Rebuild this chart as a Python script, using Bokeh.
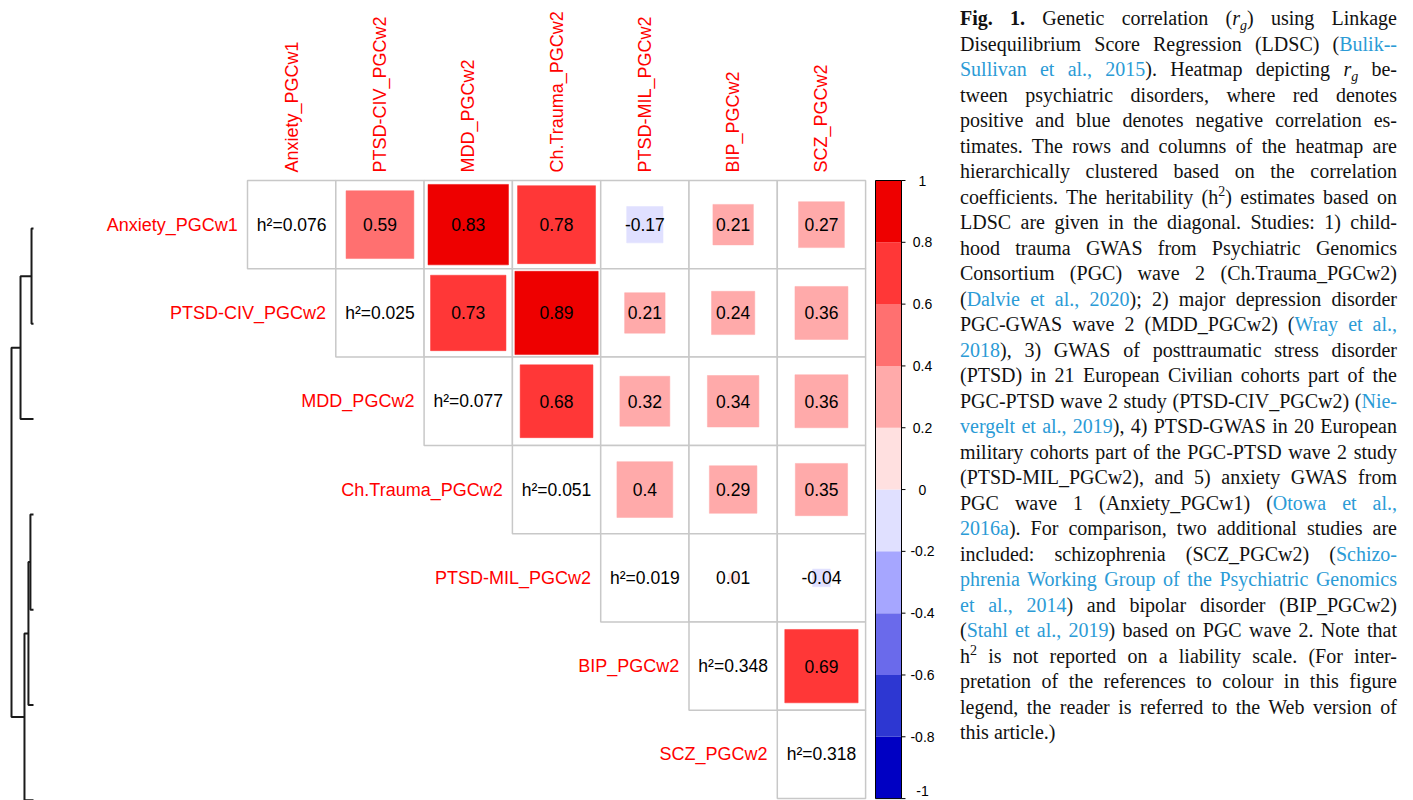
import numpy as np
from bokeh.plotting import figure
from bokeh.models import Range1d, ColumnDataSource, Div
from bokeh.layouts import row
from bokeh.core.properties import value
from bokeh.embed import file_html
from bokeh.resources import INLINE

# ---------------- data ----------------
traits = ["Anxiety_PGCw1", "PTSD-CIV_PGCw2", "MDD_PGCw2", "Ch.Trauma_PGCw2",
          "PTSD-MIL_PGCw2", "BIP_PGCw2", "SCZ_PGCw2"]
h2 = [0.076, 0.025, 0.077, 0.051, 0.019, 0.348, 0.318]
# upper-triangle genetic correlations, one list per row (columns to the right of the diagonal)
rg_anxiety = [0.59, 0.83, 0.78, -0.17, 0.21, 0.27]
rg_ptsd_civ = [0.73, 0.89, 0.21, 0.24, 0.36]
rg_mdd = [0.68, 0.32, 0.34, 0.36]
rg_chtrauma = [0.40, 0.29, 0.35]
rg_ptsd_mil = [0.01, -0.04]
rg_bip = [0.69]
rg_rows = [rg_anxiety, rg_ptsd_civ, rg_mdd, rg_chtrauma, rg_ptsd_mil, rg_bip, []]

# colour scale: 10 bins from -1 to 1
palette = ["#0000C3", "#2D37D2", "#6A6AEB", "#A6A6FF", "#E0E0FF",
           "#FFE0E0", "#FFAAAA", "#FF7070", "#FF3737", "#EE0000"]
bin_edges = [-1.0, -0.8, -0.6, -0.4, -0.2, 0.0, 0.2, 0.4, 0.6, 0.8, 1.0]
cbar_ticks = [1, 0.8, 0.6, 0.4, 0.2, 0, -0.2, -0.4, -0.6, -0.8, -1]
cbar_labels = ["1", "0.8", "0.6", "0.4", "0.2", "0", "-0.2", "-0.4", "-0.6", "-0.8", "-1"]

# dendrogram (scipy-like linkage: node 7+k merges left/right at height)
dendro_left = [0, 7, 3, 9, 10, 8]
dendro_right = [1, 2, 4, 5, 6, 11]
dendro_height = [0.09, 0.59, 0.14, 0.23, 0.41, 1.00]

# ---------------- layout constants ----------------
W, H = 953, 800
XU = 88.3                       # pixels per cell
x_lo = -247 / XU
y_top = -180 / XU
x_range = Range1d(x_lo, x_lo + W / XU)
y_range = Range1d(y_top + H / XU, y_top)   # inverted: rows go down

p = figure(width=W, height=H, x_range=x_range, y_range=y_range,
           output_backend="svg", toolbar_location=None,
           x_axis_location=None, y_axis_location=None, min_border=0)
p.grid.visible = False
p.outline_line_color = None
p.background_fill_color = "white"
p.border_fill_color = "white"

n = len(traits)
SANS = value("Liberation Sans")


def colour_of(v):
    for k in range(10):
        if bin_edges[k] <= v <= bin_edges[k + 1]:
            return palette[k]
    return palette[-1]


# grid cells (upper triangle incl. diagonal)
gx, gy = [], []
for i in range(n):
    for j in range(i, n):
        gx.append(j + 0.5)
        gy.append(i + 0.5)
p.rect(x=gx, y=gy, width=1, height=1, fill_color="white",
       line_color="#C8C8C8", line_width=1.5)

# correlation squares
sx, sy, ss, sc, st = [], [], [], [], []
for i, vals in enumerate(rg_rows):
    for k, v in enumerate(vals):
        j = i + 1 + k
        sx.append(j + 0.5)
        sy.append(i + 0.5)
        ss.append(np.sqrt(abs(v)))
        sc.append(colour_of(v))
        st.append(f"{v:g}")
src_sq = ColumnDataSource(dict(x=sx, y=sy, s=ss, c=sc, t=st))
p.rect(x="x", y="y", width="s", height="s", fill_color="c",
       line_color="c", line_width=0.5, source=src_sq)
p.text(x="x", y="y", text="t", source=src_sq, text_align="center",
       text_baseline="middle", text_font=SANS, text_font_size="17.5px",
       text_color="black")

# diagonal heritabilities
src_h2 = ColumnDataSource(dict(x=[i + 0.5 for i in range(n)],
                               y=[i + 0.5 for i in range(n)],
                               t=[f"h\u00b2={v:.3f}" for v in h2]))
p.text(x="x", y="y", text="t", source=src_h2, text_align="center",
       text_baseline="middle", text_font=SANS, text_font_size="17.5px",
       text_color="black")

# row labels (left of each diagonal cell)
p.text(x=[i - 0.11 for i in range(n)], y=[i + 0.5 for i in range(n)],
       text=traits, text_align="right", text_baseline="middle",
       text_font=SANS, text_font_size="18px", text_color="#FF0000")

# column labels (rotated, above the grid)
p.text(x=[j + 0.5 for j in range(n)], y=[-0.09] * n, text=traits,
       angle=np.pi / 2, text_align="left", text_baseline="middle",
       text_font=SANS, text_font_size="18px", text_color="#FF0000")

# colour bar
cb_x0, cb_x1 = (875 - 247) / XU, (901 - 247) / XU


def v_to_y(v):
    return (1 - v) / 2 * n


bt = [v_to_y(bin_edges[k + 1]) for k in range(10)]
bb = [v_to_y(bin_edges[k]) for k in range(10)]
p.quad(left=cb_x0, right=cb_x1, top=bt, bottom=bb, fill_color=palette,
       line_color=None)
p.quad(left=[cb_x0], right=[cb_x1], top=[v_to_y(1)], bottom=[v_to_y(-1)],
       fill_color=None, line_color="black", line_width=1)
ty = [v_to_y(v) for v in cbar_ticks]
p.segment(x0=[cb_x1] * len(ty), x1=[cb_x1 + 0.045] * len(ty), y0=ty, y1=ty,
          line_color="black", line_width=1)
lab_x = (922 - 247) / XU
p.text(x=[lab_x] * (len(ty) - 1), y=ty[:-1], text=cbar_labels[:-1],
       text_align="center", text_baseline="middle", text_font=SANS,
       text_font_size="14px", text_color="black")
p.text(x=[lab_x], y=ty[-1:], text=cbar_labels[-1:], y_offset=-3,
       text_align="center", text_baseline="bottom", text_font=SANS,
       text_font_size="14px", text_color="black")

# dendrogram
leaf_x = (33 - 247) / XU
dendro_w = 22 / XU
leaf_y0 = (228 - 180) / XU
leaf_step = 95.3 / XU
node_y = [leaf_y0 + k * leaf_step for k in range(n)]
node_h = [0.0] * n
xs, ys = [], []
for a, b, h in zip(dendro_left, dendro_right, dendro_height):
    ya, yb = node_y[a], node_y[b]
    xa = leaf_x - node_h[a] * dendro_w
    xb = leaf_x - node_h[b] * dendro_w
    xh = leaf_x - h * dendro_w
    xs.append([xa, xh, xh, xb])
    ys.append([ya, ya, yb, yb])
    node_y.append((ya + yb) / 2)
    node_h.append(h)
p.multi_line(xs=xs, ys=ys, line_color="#1a1a1a", line_width=2)

# ---------------- caption ----------------
LINK = "#2B9BD6"


def a(t):
    return f'<span style="color:{LINK}">{t}</span>'


rg = '<i>r<sub style="font-size:0.7em;line-height:0">g</sub></i>'
sup2 = '<sup style="font-size:0.7em;line-height:0">2</sup>'
caption_lines = [
    f"<b>Fig. 1.</b> Genetic correlation ({rg}) using Linkage",
    f"Disequilibrium Score Regression (LDSC) ({a('Bulik--')}",
    f"{a('Sullivan et al., 2015')}). Heatmap depicting {rg} be-",
    "tween psychiatric disorders, where red denotes",
    "positive and blue denotes negative correlation es-",
    "timates. The rows and columns of the heatmap are",
    "hierarchically clustered based on the correlation",
    f"coefficients. The heritability (h{sup2}) estimates based on",
    "LDSC are given in the diagonal. Studies: 1) child-",
    "hood trauma GWAS from Psychiatric Genomics",
    "Consortium (PGC) wave 2 (Ch.Trauma_PGCw2)",
    f"({a('Dalvie et al., 2020')}); 2) major depression disorder",
    f"PGC-GWAS wave 2 (MDD_PGCw2) ({a('Wray et al.,')}",
    f"{a('2018')}), 3) GWAS of posttraumatic stress disorder",
    "(PTSD) in 21 European Civilian cohorts part of the",
    f"PGC-PTSD wave 2 study (PTSD-CIV_PGCw2) ({a('Nie-')}",
    f"{a('vergelt et al., 2019')}), 4) PTSD-GWAS in 20 European",
    "military cohorts part of the PGC-PTSD wave 2 study",
    "(PTSD-MIL_PGCw2), and 5) anxiety GWAS from",
    f"PGC wave 1 (Anxiety_PGCw1) ({a('Otowa et al.,')}",
    f"{a('2016a')}). For comparison, two additional studies are",
    f"included: schizophrenia (SCZ_PGCw2) ({a('Schizo-')}",
    f"{a('phrenia Working Group of the Psychiatric Genomics')}",
    f"{a('et al., 2014')}) and bipolar disorder (BIP_PGCw2)",
    f"({a('Stahl et al., 2019')}) based on PGC wave 2. Note that",
    f"h{sup2} is not reported on a liability scale. (For inter-",
    "pretation of the references to colour in this figure",
    "legend, the reader is referred to the Web version of",
    "this article.)",
]
html_lines = []
for k, ln in enumerate(caption_lines):
    last = "left" if k == len(caption_lines) - 1 else "justify"
    html_lines.append(
        f'<div style="width:437px;text-align:justify;text-align-last:{last};'
        f'white-space:nowrap;height:25.5px;line-height:25.5px">{ln}</div>')
caption_html = ('<div style="width:437px;margin-left:2px;margin-top:1px">'
                + "".join(html_lines) + "</div>")
caption = Div(text=caption_html, width=450, height=H,
              styles={"font-family": "'Liberation Serif', serif",
                      "font-size": "20px", "color": "#111111"})

layout = row(p, caption)
open("out.html", "w").write(file_html(layout, INLINE))
